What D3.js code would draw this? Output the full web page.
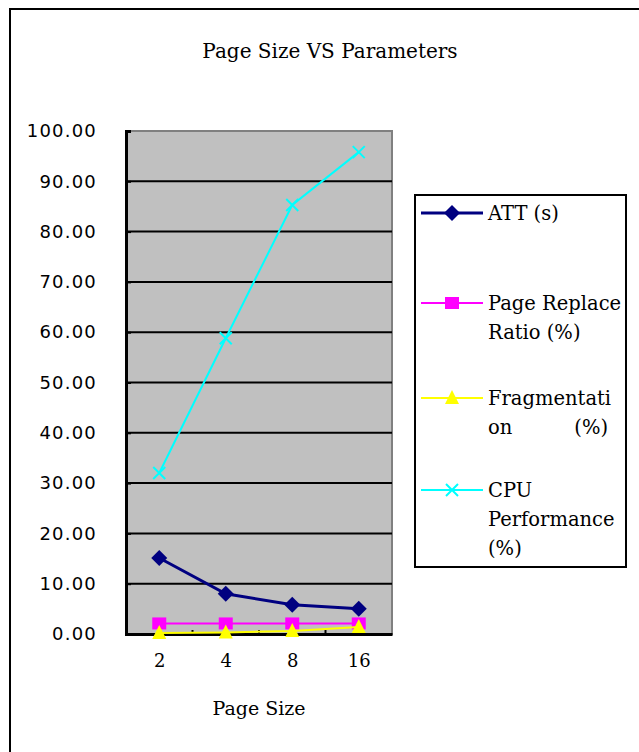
<!DOCTYPE html>
<html>
<head>
<meta charset="utf-8">
<script src="https://cdn.jsdelivr.net/npm/d3@7"></script>
<style>
  body { margin: 0; background: #fff; }
  text { fill: #000; }
</style>
</head>
<body>
<div id="chart"></div>
<script>
var pageSizes = ["2", "4", "8", "16"];
var att = [15.1, 8.0, 5.8, 5.0];
var replaceRatio = [2.1, 2.1, 2.1, 2.1];
var fragmentation = [0.2, 0.3, 0.6, 1.4];
var cpuPerf = [32.0, 58.8, 85.3, 95.8];
var yTicks = [0, 10, 20, 30, 40, 50, 60, 70, 80, 90, 100];

var series = [
  {name: ["ATT (s)"], values: att, color: "#000080", width: 3, marker: "diamond"},
  {name: ["Page Replace", "Ratio (%)"], values: replaceRatio, color: "#ff00ff", width: 2, marker: "square"},
  {name: ["Fragmentati", "on          (%)"], values: fragmentation, color: "#ffff00", width: 2, marker: "triangle"},
  {name: ["CPU", "Performance", "(%)"], values: cpuPerf, color: "#00ffff", width: 2, marker: "cross"}
];

var W = 639, H = 752;
var plot = {left: 126, top: 131, right: 392, bottom: 634};
var serif = "'DejaVu Serif', 'Liberation Serif', serif";
var sans = "'DejaVu Sans', 'Liberation Sans', sans-serif";

var svg = d3.select("#chart").append("svg")
    .attr("width", W)
    .attr("height", H);

// outer chart frame
svg.append("rect")
   .attr("x", 10).attr("y", 9)
   .attr("width", W + 20).attr("height", H + 20)
   .attr("fill", "none").attr("stroke", "#000").attr("stroke-width", 2);

svg.append("text")
   .attr("x", 330).attr("y", 58)
   .attr("text-anchor", "middle")
   .style("font-family", serif).style("font-size", "20px")
   .text("Page Size VS Parameters");

var xScale = d3.scalePoint()
    .domain(pageSizes)
    .range([plot.left, plot.right])
    .padding(0.5);

var yScale = d3.scaleLinear()
    .domain([0, 100])
    .range([plot.bottom, plot.top]);

// plot background
svg.append("rect")
   .attr("x", plot.left).attr("y", plot.top)
   .attr("width", plot.right - plot.left)
   .attr("height", plot.bottom - plot.top)
   .attr("fill", "#c0c0c0")
   .attr("stroke", "#808080").attr("stroke-width", 2);

// gridlines
svg.append("g")
   .selectAll("line")
   .data(yTicks.filter(function(d) { return d > 0 && d < 100; }))
   .enter().append("line")
     .attr("x1", plot.left).attr("x2", plot.right)
     .attr("y1", function(d) { return yScale(d); })
     .attr("y2", function(d) { return yScale(d); })
     .attr("stroke", "#000").attr("stroke-width", 2);

// y axis
var yAxis = svg.append("g")
   .attr("transform", "translate(" + plot.left + ",0)")
   .call(d3.axisLeft(yScale).tickValues(yTicks).tickSize(-5).tickPadding(29)
           .tickFormat(d3.format(".2f")));
yAxis.select(".domain").attr("stroke", "#000").attr("stroke-width", 3);
yAxis.selectAll(".tick line").attr("stroke", "#000").attr("stroke-width", 2);
yAxis.selectAll("text")
     .style("font-family", sans).style("font-size", "18px")
     .style("letter-spacing", "1.2px").attr("fill", "#000");

// x axis
var step = xScale.step();
var xAxis = svg.append("g")
   .attr("transform", "translate(0," + plot.bottom + ")")
   .call(d3.axisBottom(xScale).tickSize(0).tickPadding(20));
xAxis.select(".domain").attr("stroke", "#000").attr("stroke-width", 3);
xAxis.selectAll("text")
     .style("font-family", serif).style("font-size", "18px").attr("fill", "#000");
xAxis.selectAll(".sep")
     .data(pageSizes.slice(1))
     .enter().append("line")
       .attr("x1", function(d) { return xScale(d) - step / 2; })
       .attr("x2", function(d) { return xScale(d) - step / 2; })
       .attr("y1", 0).attr("y2", -4)
       .attr("stroke", "#000").attr("stroke-width", 2);

svg.append("text")
   .attr("x", 259).attr("y", 715)
   .attr("text-anchor", "middle")
   .style("font-family", serif).style("font-size", "19px")
   .text("Page Size");

function drawMarker(g, type, color) {
  if (type == "diamond") {
    g.append("path").attr("d", "M0,-8L8,0L0,8L-8,0Z").attr("fill", color);
  } else if (type == "square") {
    g.append("rect").attr("x", -7).attr("y", -6).attr("width", 14).attr("height", 12).attr("fill", color);
  } else if (type == "triangle") {
    g.append("path").attr("d", "M0,-8L7,6L-7,6Z").attr("fill", color);
  } else {
    g.append("path").attr("d", "M-6,-6L6,6M-6,6L6,-6")
     .attr("stroke", color).attr("stroke-width", 2).attr("fill", "none");
  }
}

var line = d3.line()
    .x(function(d, i) { return xScale(pageSizes[i]); })
    .y(function(d) { return yScale(d); });

series.forEach(function(s) {
  svg.append("path")
     .datum(s.values)
     .attr("d", line)
     .attr("fill", "none")
     .attr("stroke", s.color)
     .attr("stroke-width", s.width);
  s.values.forEach(function(v, i) {
    var g = svg.append("g")
       .attr("transform", "translate(" + xScale(pageSizes[i]) + "," + yScale(v) + ")");
    drawMarker(g, s.marker, s.color);
  });
});

// legend
var legend = svg.append("g").attr("transform", "translate(415,195)");
legend.append("rect")
      .attr("width", 211).attr("height", 372)
      .attr("fill", "#fff").attr("stroke", "#000").attr("stroke-width", 2);

var entryY = [18, 108, 203, 295];
series.forEach(function(s, k) {
  var g = legend.append("g").attr("transform", "translate(0," + entryY[k] + ")");
  g.append("line")
   .attr("x1", 6).attr("x2", 68)
   .attr("stroke", s.color).attr("stroke-width", s.width);
  var m = g.append("g").attr("transform", "translate(37,0)");
  drawMarker(m, s.marker, s.color);
  s.name.forEach(function(t, j) {
    g.append("text")
     .attr("x", 73).attr("y", 7 + j * 29)
     .style("font-family", serif).style("font-size", "19.5px")
     .style("white-space", "pre")
     .text(t);
  });
});
</script>
</body>
</html>
